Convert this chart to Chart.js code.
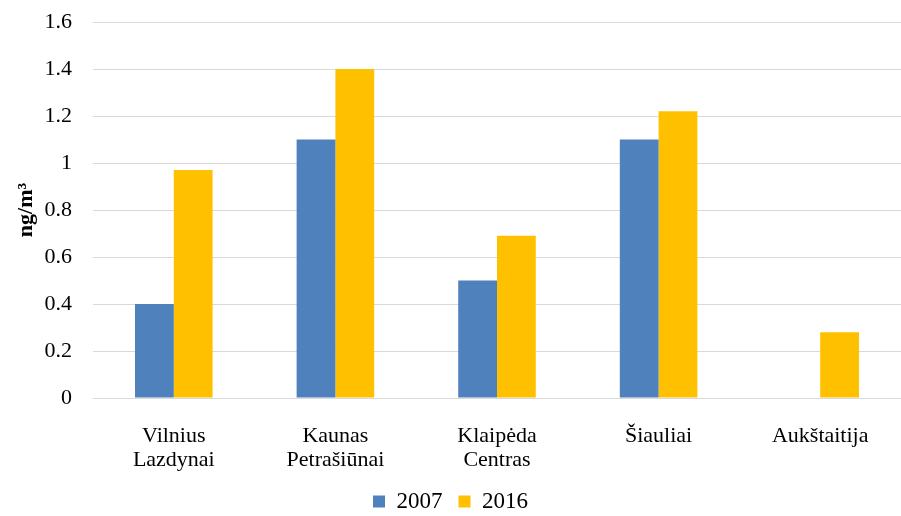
<!DOCTYPE html>
<html>
<head>
<meta charset="utf-8">
<script src="https://cdn.jsdelivr.net/npm/chart.js@4.4.1/dist/chart.umd.min.js"></script>
<style>
  html, body { margin: 0; padding: 0; background: #fff; }
  #wrap { width: 901px; height: 516px; }
</style>
</head>
<body>
<div id="wrap"><canvas id="chart"></canvas></div>
<script>
// Duomenys
const stotys = [['Vilnius', 'Lazdynai'], ['Kaunas', 'Petrašiūnai'], ['Klaipėda', 'Centras'], 'Šiauliai', 'Aukštaitija'];
const metai2007 = [0.4, 1.1, 0.5, 1.1, null];
const metai2016 = [0.97, 1.4, 0.69, 1.22, 0.28];
const yTicks = [0, 0.2, 0.4, 0.6, 0.8, 1, 1.2, 1.4, 1.6];

const serif = '"Liberation Serif", "Times New Roman", serif';
Chart.defaults.font.family = serif;
Chart.defaults.color = '#000';

// legendos aukštis fiksuotas, kad grafiko sritis baigtųsi ten pat kaip originale
const legendHeight = {
  id: 'legendHeight',
  afterInit(chart) {
    const lg = chart.legend;
    const fit = lg.fit.bind(lg);
    lg.fit = function () { fit(); this.height = 42; };
  }
};

const ctx = document.getElementById('chart').getContext('2d');
new Chart(ctx, {
  type: 'bar',
  data: {
    labels: stotys,
    datasets: [
      { label: '2007', data: metai2007, backgroundColor: '#4F81BD' },
      { label: '2016', data: metai2016, backgroundColor: '#FFC000' }
    ]
  },
  options: {
    responsive: true,
    maintainAspectRatio: false,
    animation: false,
    layout: { padding: 0 },
    datasets: { bar: { categoryPercentage: 0.48, barPercentage: 1 } },
    plugins: {
      tooltip: { enabled: false },
      legend: {
        position: 'bottom',
        labels: {
          font: { size: 23 },
          boxWidth: 12,
          boxHeight: 12,
          padding: 16
        }
      }
    },
    scales: {
      x: {
        grid: { display: false },
        border: { display: false },
        ticks: { font: { size: 22, lineHeight: 1.1 }, padding: 18, maxRotation: 0 },
        afterFit: s => { s.height = 76; }
      },
      y: {
        min: 0,
        max: 1.6,
        afterBuildTicks: s => { s.ticks = yTicks.map(v => ({ value: v })); },
        grid: { color: '#d9d9d9', lineWidth: 1, drawTicks: false },
        border: { display: false },
        ticks: { font: { size: 22 }, padding: 21, callback: v => String(v) },
        title: {
          display: true,
          text: 'ng/m³',
          font: { size: 22, weight: 'bold' },
          padding: { top: 13, bottom: 0 }
        },
        afterFit: s => { s.width = 93; s.paddingTop = 22; s.paddingBottom = 0; }
      }
    }
  },
  plugins: [legendHeight]
});
</script>
</body>
</html>
